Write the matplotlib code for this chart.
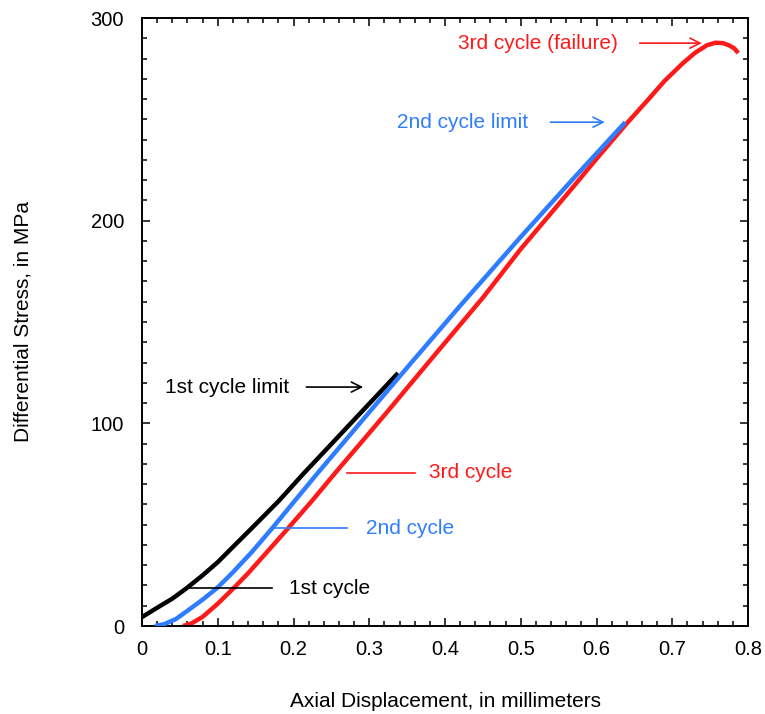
import matplotlib
matplotlib.use("Agg")
import matplotlib.pyplot as plt
from matplotlib.ticker import MultipleLocator

plt.rcParams['font.family'] = ['Liberation Sans', 'DejaVu Sans']

# Cycle 1 (black)
c1_x = [0.0, 0.02, 0.04, 0.059, 0.08, 0.10, 0.12, 0.145, 0.18, 0.214, 0.25, 0.30, 0.338]
c1_y = [4.4, 9.0, 13.5, 18.7, 25.0, 31.5, 39.0, 48.3, 61.5, 75.5, 89.8, 109.7, 124.8]

# Cycle 2 (blue)
c2_x = [0.017, 0.03, 0.045, 0.06, 0.08, 0.099, 0.12, 0.145, 0.172, 0.20, 0.232, 0.30, 0.358, 0.42, 0.50, 0.57, 0.638]
c2_y = [0.0, 1.0, 3.5, 7.5, 13.0, 18.7, 26.5, 36.5, 48.3, 61.0, 75.5, 105.5, 131.0, 158.0, 192.0, 221.0, 248.6]

# Cycle 3 (red)
c3_x = [0.054, 0.065, 0.08, 0.10, 0.121, 0.14, 0.165, 0.193, 0.225, 0.255, 0.32, 0.387, 0.45, 0.50, 0.57, 0.60,
        0.64, 0.67, 0.69, 0.714, 0.73, 0.746, 0.757, 0.767, 0.775, 0.782, 0.787]
c3_y = [0.0, 1.2, 4.5, 11.0, 18.7, 26.0, 36.5, 48.3, 62.0, 75.5, 104.0, 134.0, 162.0, 186.0, 217.0, 230.5,
        248.0, 260.5, 269.0, 277.7, 282.8, 286.6, 287.8, 287.6, 286.5, 285.0, 282.7]

x_ticks = [0, 0.1, 0.2, 0.3, 0.4, 0.5, 0.6, 0.7, 0.8]
x_tick_labels = ["0", "0.1", "0.2", "0.3", "0.4", "0.5", "0.6", "0.7", "0.8"]
y_ticks = [0, 100, 200, 300]

RED = "#ff1a1a"
BLUE = "#2f7dff"
BLACK = "#000000"

fig = plt.figure(figsize=(7.65, 7.14), dpi=100)
ax = fig.add_axes([142/765, 88/714, 606/765, 608/714])

ax.plot(c1_x, c1_y, color=BLACK, lw=3.2, solid_capstyle='butt', solid_joinstyle='round', zorder=3)
ax.plot(c2_x, c2_y, color=BLUE, lw=3.2, solid_capstyle='butt', solid_joinstyle='round', zorder=3)
ax.plot(c3_x, c3_y, color=RED, lw=3.2, solid_capstyle='butt', solid_joinstyle='round', zorder=2)

ax.set_xlim(0, 0.8)
ax.set_ylim(0, 300)
ax.set_xticks(x_ticks)
ax.set_xticklabels(x_tick_labels)
ax.set_yticks(y_ticks)
ax.xaxis.set_minor_locator(MultipleLocator(0.02))
ax.yaxis.set_minor_locator(MultipleLocator(10))

ax.tick_params(which='both', direction='in', top=True, right=True, width=1.1, labelsize=14.5, colors='black')
ax.tick_params(which='major', length=6)
ax.tick_params(which='minor', length=3.6)
ax.tick_params(axis='x', which='major', pad=10)
ax.tick_params(axis='y', which='major', pad=13)
for s in ax.spines.values():
    s.set_linewidth(1.4)

ax.set_xlabel("Axial Displacement, in millimeters", fontsize=15, labelpad=24)
ax.set_ylabel("Differential Stress, in MPa", fontsize=15, labelpad=42)

fs = 15
# arrows for limits
ax.annotate("", xy=(0.292, 117.9), xytext=(0.217, 117.9),
            arrowprops=dict(arrowstyle='->', color=BLACK, lw=1.2, mutation_scale=18, shrinkA=0, shrinkB=0))
ax.text(0.030, 117.9, "1st cycle limit", color=BLACK, fontsize=fs, va='center', ha='left')

ax.annotate("", xy=(0.611, 248.6), xytext=(0.539, 248.6),
            arrowprops=dict(arrowstyle='->', color=BLUE, lw=1.2, mutation_scale=18, shrinkA=0, shrinkB=0))
ax.text(0.337, 248.6, "2nd cycle limit", color=BLUE, fontsize=fs, va='center', ha='left')

ax.annotate("", xy=(0.739, 287.6), xytext=(0.657, 287.6),
            arrowprops=dict(arrowstyle='->', color=RED, lw=1.2, mutation_scale=18, shrinkA=0, shrinkB=0))
ax.text(0.417, 287.6, "3rd cycle (failure)", color=RED, fontsize=fs, va='center', ha='left')

# leader lines for cycles
ax.plot([0.059, 0.172], [18.7, 18.7], color=BLACK, lw=1.2, zorder=4)
ax.text(0.194, 18.7, "1st cycle", color=BLACK, fontsize=fs, va='center', ha='left')

ax.plot([0.172, 0.271], [48.3, 48.3], color=BLUE, lw=1.2, zorder=4)
ax.text(0.296, 48.3, "2nd cycle", color=BLUE, fontsize=fs, va='center', ha='left')

ax.plot([0.271, 0.360], [75.5, 75.5], color=RED, lw=1.2, zorder=4)
ax.text(0.379, 75.5, "3rd cycle", color=RED, fontsize=fs, va='center', ha='left')

fig.savefig("out.png", dpi=100)
